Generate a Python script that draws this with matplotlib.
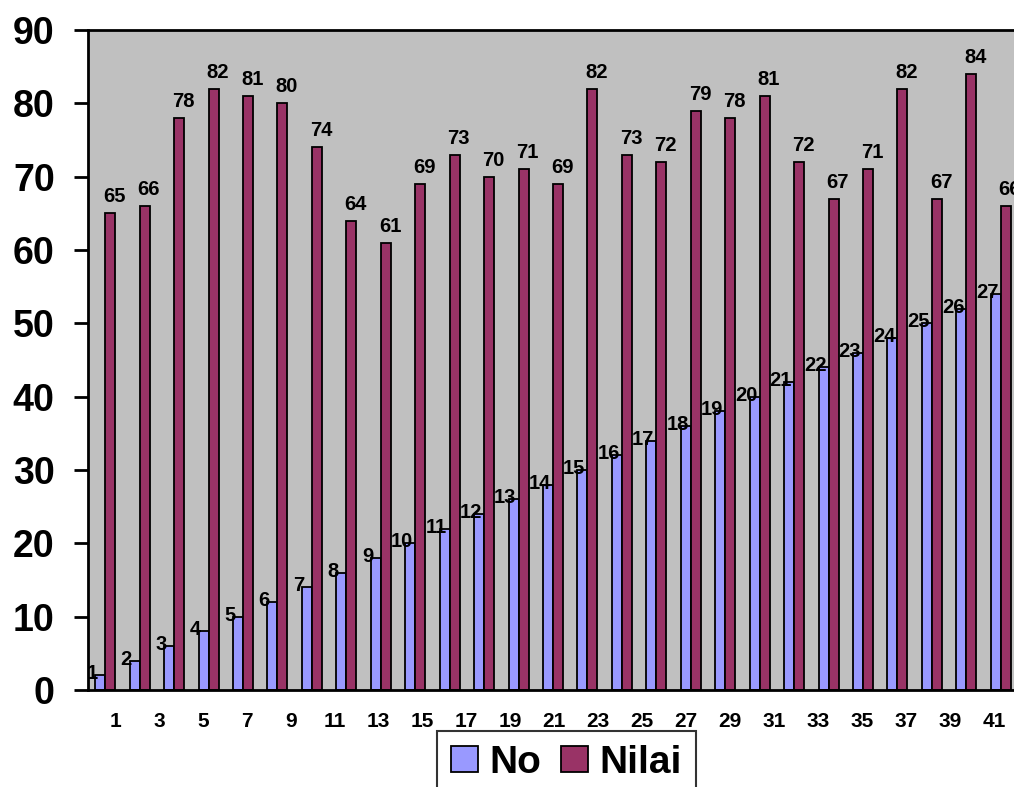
import numpy as np
import matplotlib
matplotlib.use('Agg')
import matplotlib.pyplot as plt

plt.rcParams['font.family'] = ['Liberation Sans', 'DejaVu Sans']
plt.rcParams['font.weight'] = 'bold'

# data
no_labels = list(range(1, 28))
no_heights = [2, 4, 6, 8, 10, 12, 14, 16, 18, 20, 22, 24, 26, 28, 30, 32, 34, 36,
              38, 40, 42, 44, 46, 48, 50, 52, 54]
nilai = [65, 66, 78, 82, 81, 80, 74, 64, 61, 69, 73, 70, 71, 69, 82, 73, 72, 79,
         78, 81, 72, 67, 71, 82, 67, 84, 66]
xticks = list(range(1, 42, 2))

blue = '#9999FF'
red = '#993366'

fig = plt.figure(figsize=(10.14, 7.87), dpi=100)
ax = fig.add_axes([88 / 1014, 97 / 787, 930 / 1014, 660 / 787])
ax.set_facecolor('#C0C0C0')

x = np.arange(len(nilai))
w = 0.29
b1 = ax.bar(x - w / 2, no_heights, w, color=blue, edgecolor='black', linewidth=1.3, label='No')
b2 = ax.bar(x + w / 2, nilai, w, color=red, edgecolor='black', linewidth=1.3, label='Nilai')

for rect, lab in zip(b1, no_labels):
    ax.annotate(str(lab), (rect.get_x() + rect.get_width() / 2, rect.get_height()),
                xytext=(-6, 1), textcoords='offset points', ha='center', va='center',
                fontsize=14.5, fontweight='bold')
for rect, v in zip(b2, nilai):
    ax.annotate(str(v), (rect.get_x() + rect.get_width() / 2, rect.get_height()),
                xytext=(3, 5), textcoords='offset points', ha='center', va='bottom',
                fontsize=14.5, fontweight='bold')

ax.set_xlim(-0.5, len(nilai) - 0.5)
ax.set_ylim(0, 90)
ax.set_yticks(range(0, 91, 10))
ax.tick_params(axis='y', labelsize=27, length=10, width=2, pad=14)
for t in ax.get_yticklabels():
    t.set_fontweight('bold')
ax.set_xticks([])
for s in ax.spines.values():
    s.set_linewidth(2)

# category labels shown under the axis
ax2 = ax.twiny()
ax2.set_xlim(-0.23, 42.1)
ax2.xaxis.set_ticks_position('bottom')
ax2.set_xticks(xticks)
ax2.set_xticklabels([str(v) for v in xticks], fontsize=15, fontweight='bold')
ax2.tick_params(axis='x', length=0, pad=16)
for s in ax2.spines.values():
    s.set_visible(False)

leg = ax.legend(handles=[b1, b2], labels=['No', 'Nilai'], ncol=2, loc='upper left',
                bbox_to_anchor=(437 / 1014, 1 - 731 / 787), bbox_transform=fig.transFigure,
                prop={'size': 28, 'weight': 'bold'}, frameon=True, fancybox=False,
                edgecolor='black', handlelength=0.7, handleheight=0.65,
                handletextpad=0.3, columnspacing=0.5, borderpad=0.35, borderaxespad=0)
leg.get_frame().set_linewidth(1.5)

fig.savefig('out.png', dpi=100)
